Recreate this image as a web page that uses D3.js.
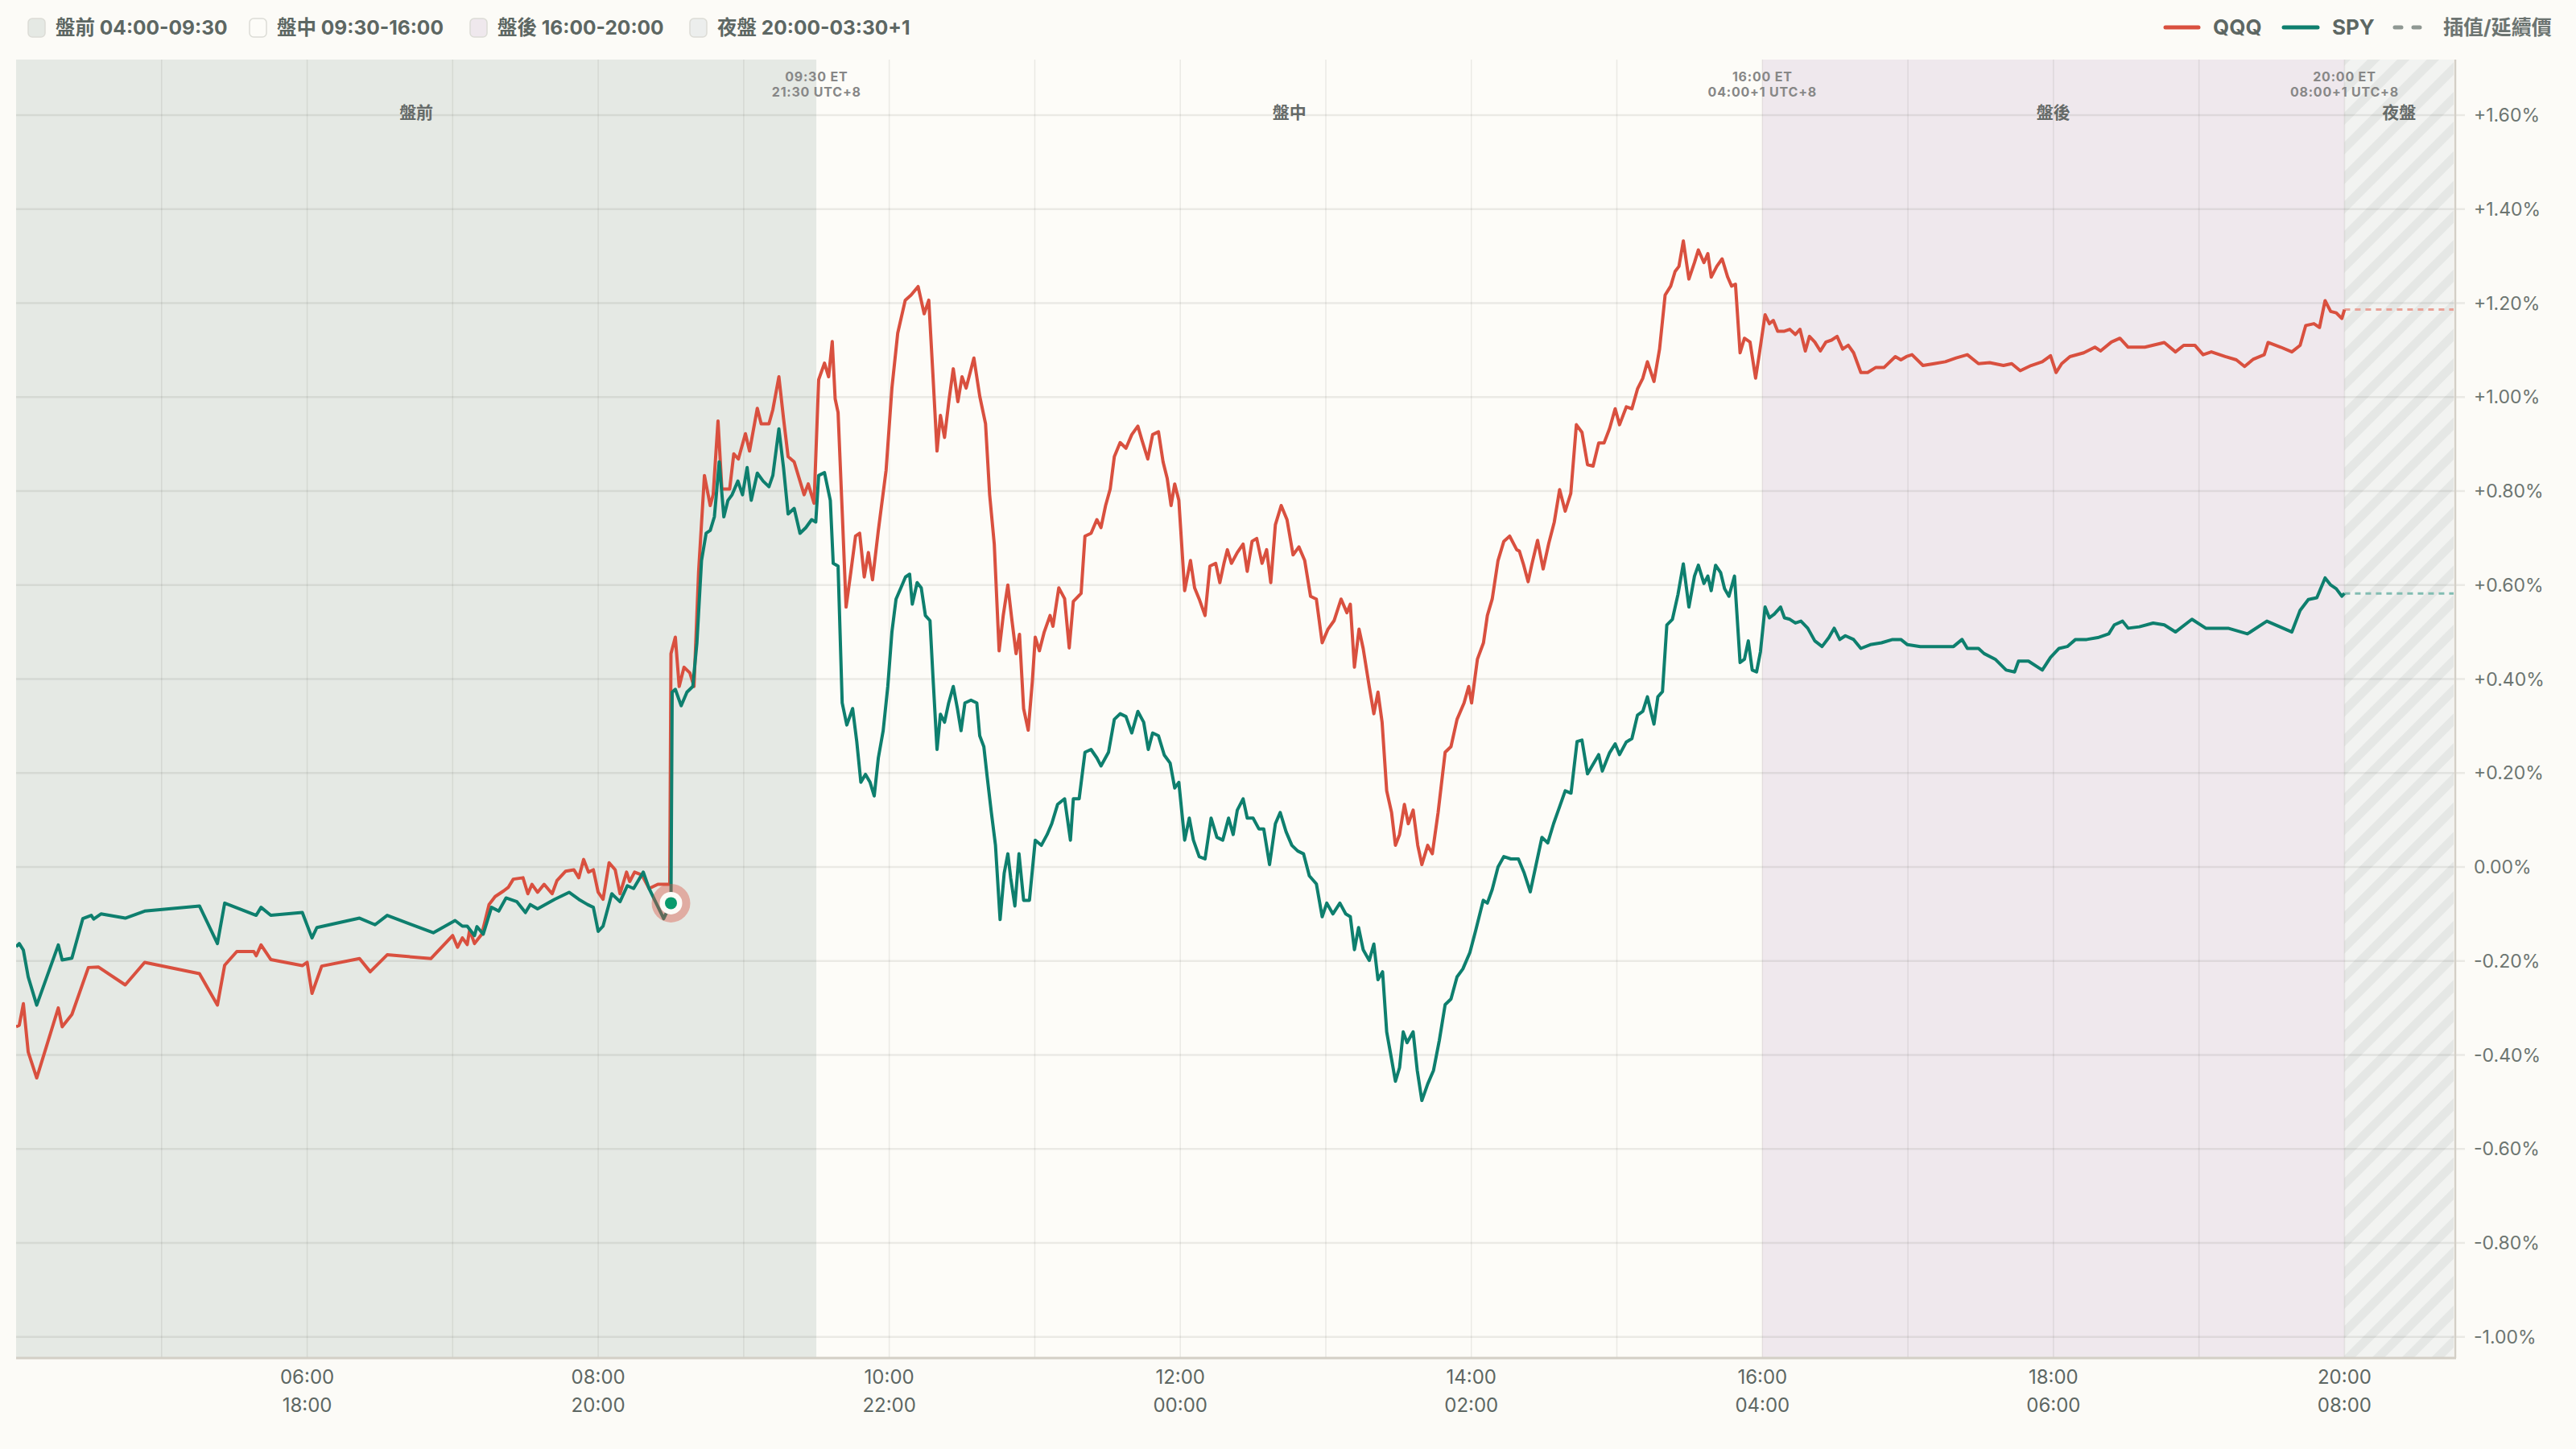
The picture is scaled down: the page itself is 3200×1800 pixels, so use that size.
<!DOCTYPE html>
<html>
<head>
<meta charset="utf-8">
<script src="https://cdn.jsdelivr.net/npm/d3@7"></script>
<style>
  body { margin: 0; background: #fcfbf7; }
  svg { display: block; font-family: Inter, "Noto Sans CJK TC", sans-serif; }
</style>
</head>
<body>
<div id="chart"></div>
<script>
// ---- data: [minutes after 04:00 ET, % change vs previous close] ----
var qqq = [
  [0,-0.34],[1.3,-0.337],[3,-0.291],[5,-0.394],[8.5,-0.449],[17.4,-0.30],[19,-0.34],[23,-0.314],[29.8,-0.214],[34,-0.213],
  [45,-0.251],[53,-0.203],[75.6,-0.227],[83,-0.294],[86,-0.209],[91,-0.18],[98,-0.18],[99,-0.189],[101,-0.166],[105,-0.197],
  [118,-0.21],[120,-0.203],[122,-0.269],[126,-0.211],[141.6,-0.195],[146,-0.223],[153,-0.187],[171,-0.195],[180,-0.146],
  [182,-0.171],[184,-0.151],[186,-0.165],[187,-0.134],[189,-0.163],[192,-0.143],[195,-0.08],[197.5,-0.063],[201,-0.051],
  [203,-0.043],[205,-0.026],[209,-0.023],[211,-0.057],[212.7,-0.037],[215,-0.054],[217.7,-0.037],[221,-0.057],[223,-0.029],
  [226.6,-0.009],[230,-0.006],[232,-0.023],[234,0.016],[236,-0.011],[238,-0.006],[240,-0.054],[242,-0.069],[244.5,0.009],
  [247,-0.006],[249,-0.057],[251.7,-0.011],[253,-0.031],[255,-0.011],[258,-0.017],[261,-0.046],[264.6,-0.037],[269.5,-0.037],
  [270,0.454],[271.8,0.489],[273.4,0.384],[275.4,0.425],[277.8,0.413],[279.5,0.384],[281.4,0.629],[283.8,0.833],[286.2,0.769],
  [287.4,0.792],[289.4,0.949],[291,0.804],[294.2,0.804],[295.9,0.879],[297.8,0.868],[300.7,0.922],[302.4,0.885],[305.6,0.976],
  [307.2,0.943],[310.4,0.943],[312,0.973],[314.5,1.043],[316.4,0.955],[318.3,0.873],[320.8,0.862],[323.2,0.821],[324.9,0.792],
  [326.6,0.815],[329,0.774],[330.9,1.037],[333.3,1.072],[335,1.043],[336.5,1.118],[337.7,0.996],[338.9,0.967],[340.6,0.757],
  [342.2,0.553],[344.2,0.629],[346.1,0.704],[347.8,0.71],[349.7,0.617],[351.4,0.669],[353.1,0.611],[355.5,0.716],[358.7,0.844],
  [361.1,1.019],[363.5,1.136],[366.6,1.206],[369,1.217],[371.9,1.235],[374.4,1.177],[376.3,1.206],[378,1.048],[379.7,0.885],
  [381.1,0.961],[382.8,0.914],[384.7,0.996],[386.4,1.06],[388.3,0.99],[390,1.043],[391.7,1.019],[394.9,1.083],[397.3,1.002],
  [399.7,0.943],[401.4,0.792],[403.3,0.687],[405.3,0.46],[407,0.535],[408.9,0.6],[410.6,0.524],[412.3,0.454],[413.7,0.495],
  [415.4,0.337],[417.3,0.291],[419,0.395],[420.2,0.489],[421.9,0.46],[423.9,0.5],[426.3,0.535],[427.5,0.512],[429.9,0.594],
  [432.3,0.571],[434.2,0.466],[435.9,0.565],[439.1,0.582],[440.7,0.704],[443.2,0.71],[445.6,0.739],[447.3,0.722],[449.2,0.769],
  [451.1,0.804],[452.8,0.873],[455.2,0.903],[457.6,0.891],[460,0.92],[462.5,0.938],[464.2,0.908],[466.6,0.868],[468.6,0.92],
  [471,0.926],[472.9,0.862],[474.6,0.827],[476.2,0.769],[477.7,0.815],[479.4,0.78],[481.8,0.588],[484.2,0.652],[485.9,0.594],
  [487.8,0.57],[490.2,0.535],[492.2,0.64],[494.6,0.646],[496.3,0.605],[498,0.646],[499.4,0.675],[501.1,0.646],[503.5,0.669],
  [505.9,0.687],[507.6,0.629],[509.6,0.693],[511.5,0.699],[513.7,0.646],[515.6,0.675],[517.3,0.605],[519.2,0.728],[521.6,0.769],
  [524,0.739],[526.5,0.664],[528.9,0.681],[531.3,0.652],[533.7,0.576],[536.1,0.57],[538.5,0.477],[540.9,0.506],[543.4,0.524],
  [546.3,0.57],[548.7,0.541],[550.1,0.559],[551.8,0.425],[553.7,0.506],[555.4,0.465],[557.9,0.384],[559.8,0.326],[561.5,0.372],
  [563.2,0.308],[565.1,0.162],[567.1,0.116],[568.7,0.046],[570.4,0.069],[572.4,0.133],[574,0.092],[576,0.121],[577.9,0.046],
  [579.6,0.005],[582,0.046],[583.9,0.028],[586.3,0.116],[589.2,0.244],[591.6,0.256],[594.1,0.314],[597,0.349],[598.9,0.384],
  [600.1,0.349],[602.5,0.442],[605,0.477],[606.6,0.535],[608.6,0.57],[611,0.652],[613.4,0.693],[615.8,0.704],[618.7,0.675],
  [619.8,0.672],[621.6,0.642],[623.4,0.607],[625,0.645],[627.3,0.695],[629.6,0.634],[631.9,0.688],[634.2,0.734],[636.4,0.803],
  [638.7,0.757],[641,0.795],[643.3,0.941],[645.6,0.925],[647.9,0.856],[650.2,0.853],[652.5,0.902],[654.7,0.902],[657,0.933],
  [659.3,0.975],[661.1,0.941],[663.9,0.979],[666.2,0.975],[668.5,1.017],[670.7,1.04],[672.6,1.075],[675.3,1.033],[677.6,1.102],
  [679.9,1.217],[682.2,1.236],[684,1.267],[685.6,1.278],[687.4,1.332],[689.7,1.251],[692,1.286],[693.6,1.313],[695.9,1.286],
  [697.5,1.305],[698.9,1.255],[701.2,1.278],[703.4,1.294],[705.7,1.255],[707.3,1.236],[708.9,1.24],[710.8,1.094],[712.6,1.125],
  [714.9,1.117],[717.2,1.04],[718.8,1.094],[721.1,1.175],[722.9,1.156],[724.5,1.163],[726.3,1.14],[729.1,1.14],[731.3,1.144],
  [733.6,1.133],[735.5,1.144],[737.7,1.098],[739.4,1.129],[741.6,1.117],[743.9,1.098],[746.2,1.117],[748.5,1.121],[750.8,1.129],
  [753.1,1.102],[755.4,1.11],[757.6,1.094],[760.6,1.052],[763.4,1.052],[766.8,1.063],[770.2,1.063],[774.8,1.086],[777.1,1.079],
  [779.4,1.086],[781.7,1.09],[786.2,1.067],[790.8,1.071],[795.4,1.075],[799.9,1.083],[804.5,1.09],[809.1,1.071],[813.7,1.073],
  [819.4,1.067],[822.8,1.071],[826.3,1.056],[830.8,1.067],[835.4,1.075],[838.8,1.088],[841.1,1.052],[843.4,1.071],[846.8,1.086],
  [852.5,1.094],[857.1,1.106],[859.4,1.098],[863.9,1.117],[867.4,1.125],[870.8,1.106],[877.7,1.106],[885.7,1.116],[890.3,1.096],
  [893.7,1.11],[898.3,1.11],[901.7,1.09],[905.1,1.096],[910.8,1.086],[915.4,1.079],[918.8,1.065],[922.3,1.08],[926.9,1.09],
  [928.5,1.116],[933.7,1.106],[938.3,1.096],[941.7,1.11],[944,1.152],[947.4,1.156],[949.7,1.148],[952,1.205],[954.3,1.182],
  [956.6,1.179],[958.9,1.167],[960,1.186]
];
var spy = [
  [0,-0.17],[1.3,-0.163],[3,-0.177],[5,-0.234],[8.5,-0.294],[17.4,-0.166],[19,-0.198],[23,-0.194],[27.5,-0.11],[31,-0.103],
  [32,-0.111],[35,-0.1],[45,-0.109],[53,-0.094],[75.6,-0.083],[83,-0.163],[86,-0.077],[99,-0.103],[101,-0.086],[105,-0.103],
  [118,-0.097],[122,-0.151],[124,-0.129],[141.6,-0.109],[148,-0.123],[153,-0.103],[172,-0.14],[181,-0.114],[184,-0.126],
  [186,-0.126],[189,-0.146],[190,-0.127],[192.6,-0.143],[196,-0.086],[199,-0.094],[202,-0.066],[206.5,-0.074],[210,-0.097],
  [212,-0.08],[215,-0.089],[222,-0.069],[228,-0.054],[232,-0.069],[235.6,-0.08],[238,-0.086],[240,-0.137],[242,-0.126],
  [245.6,-0.057],[249,-0.074],[252,-0.04],[254.6,-0.046],[258.6,-0.011],[261,-0.046],[265.8,-0.097],[267,-0.11],[270,-0.077],
  [270.5,0.372],[271.8,0.378],[274.2,0.343],[276.6,0.372],[279,0.384],[280.7,0.477],[282.6,0.652],[284.5,0.71],[286.2,0.716],
  [287.9,0.745],[289.9,0.862],[291.8,0.745],[293.5,0.78],[295.2,0.792],[297.6,0.821],[299.5,0.792],[301.4,0.85],[303.1,0.78],
  [305.6,0.838],[308,0.821],[310.4,0.809],[312,0.833],[314.5,0.932],[316.4,0.85],[318.3,0.751],[320.8,0.763],[323.2,0.71],
  [325.6,0.722],[328,0.739],[329.7,0.734],[330.9,0.833],[333.3,0.839],[335.7,0.78],[336.9,0.646],[338.9,0.64],[340.6,0.349],
  [342.5,0.302],[344.9,0.337],[346.6,0.267],[348.3,0.18],[350.2,0.197],[352.1,0.18],[353.8,0.151],[355.5,0.232],[357.5,0.29],
  [359.4,0.384],[361.1,0.5],[362.8,0.57],[364.8,0.594],[366.7,0.617],[368.4,0.623],[369.5,0.559],[371.5,0.605],[373.2,0.594],
  [374.9,0.535],[376.8,0.524],[378,0.407],[379.7,0.25],[381.1,0.325],[382.8,0.308],[384.5,0.349],[386.4,0.384],[388.1,0.337],
  [389.6,0.29],[391.2,0.349],[393.7,0.355],[396.1,0.349],[397.3,0.279],[399,0.256],[400.4,0.191],[402.1,0.116],[403.8,0.046],
  [405.7,-0.112],[407.4,-0.013],[408.9,0.028],[410.1,-0.024],[411.8,-0.083],[413.5,0.028],[415.4,-0.071],[417.8,-0.071],
  [420.2,0.057],[422.7,0.046],[425.1,0.069],[427,0.092],[429.4,0.133],[432.3,0.145],[434.7,0.057],[435.9,0.145],[438.3,0.145],
  [440.7,0.244],[443.2,0.25],[445.6,0.232],[447.3,0.215],[450.4,0.244],[452.8,0.314],[455.2,0.326],[457.6,0.32],[460,0.285],
  [462.5,0.331],[464.9,0.308],[466.8,0.25],[468.6,0.285],[471,0.279],[473.4,0.238],[475.8,0.221],[477.7,0.168],[479.4,0.18],
  [481.8,0.057],[483.7,0.104],[485.4,0.057],[487.8,0.022],[490.2,0.017],[492.7,0.104],[495.1,0.063],[497.5,0.057],[499.9,0.104],
  [501.8,0.069],[503.5,0.121],[505.9,0.145],[507.6,0.104],[510,0.104],[512.4,0.081],[514.4,0.081],[516.8,0.005],[519.2,0.092],
  [521.2,0.116],[523.6,0.075],[526,0.046],[528.4,0.034],[530.8,0.028],[533.2,-0.019],[536.1,-0.036],[538.5,-0.106],[540.4,-0.077],
  [542.9,-0.1],[545.8,-0.077],[548.2,-0.1],[550.1,-0.106],[551.8,-0.176],[553.5,-0.129],[555.4,-0.176],[557.9,-0.199],
  [559.8,-0.164],[561.5,-0.24],[563.4,-0.223],[565.1,-0.351],[567.1,-0.409],[568.7,-0.456],[570.4,-0.427],[571.9,-0.351],
  [573.5,-0.374],[576,-0.351],[577.7,-0.433],[579.6,-0.497],[582,-0.462],[584.4,-0.433],[586.8,-0.369],[589.2,-0.293],
  [591.6,-0.281],[594.1,-0.234],[596.5,-0.217],[599.4,-0.182],[601.8,-0.135],[604.9,-0.071],[606.6,-0.077],[608.6,-0.048],
  [611,0],[613.4,0.022],[616.3,0.017],[619.4,0.017],[621.8,-0.013],[624.3,-0.053],[626.7,0.005],[629.1,0.063],[631.5,0.051],
  [633.9,0.092],[636.3,0.127],[638.7,0.162],[641.1,0.157],[643.6,0.267],[645.6,0.27],[647.9,0.198],[652.5,0.239],[654,0.204],
  [657,0.243],[659.3,0.262],[661.1,0.239],[663.9,0.266],[666.2,0.273],[668.5,0.323],[670.7,0.331],[672.6,0.362],[674.2,0.327],
  [675.3,0.304],[676.9,0.362],[678.8,0.373],[680.6,0.515],[682.9,0.527],[685.2,0.58],[687.4,0.645],[689.7,0.553],[692,0.619],
  [693.6,0.642],[695.9,0.603],[697.5,0.619],[698.9,0.588],[700.7,0.642],[702.8,0.626],[704.4,0.592],[706.2,0.576],[708.5,0.619],
  [710.8,0.435],[712.6,0.442],[714.2,0.481],[715.8,0.419],[717.6,0.415],[719.2,0.458],[721.1,0.553],[722.9,0.53],[724.9,0.538],
  [727.5,0.553],[729.1,0.53],[731.3,0.527],[733.6,0.519],[735.9,0.523],[738.7,0.508],[741.6,0.481],[744.6,0.469],[747.4,0.488],
  [749.6,0.508],[751.9,0.484],[754.2,0.492],[757.6,0.484],[760.6,0.465],[764.5,0.473],[769.1,0.477],[773.7,0.484],[777.1,0.484],
  [779.8,0.473],[785.1,0.469],[792,0.469],[798.8,0.469],[802.3,0.484],[804.5,0.465],[809.1,0.465],[811.4,0.454],[816,0.442],
  [820.5,0.419],[824,0.415],[825.6,0.438],[829.7,0.438],[835.4,0.419],[838.8,0.446],[842.3,0.465],[845.7,0.469],[849.1,0.484],
  [853.7,0.484],[858.3,0.488],[862.8,0.496],[865.1,0.515],[868.5,0.523],[870.8,0.508],[875.4,0.511],[881.1,0.519],[885.7,0.515],
  [890.3,0.5],[897.1,0.527],[902.8,0.508],[912,0.508],[920,0.496],[928,0.523],[938.3,0.5],[941.7,0.546],[945.1,0.569],
  [948.6,0.573],[952,0.615],[954.3,0.6],[956.6,0.592],[958.9,0.576],[960,0.582]
];
var sessionKeys   = ['pre', 'reg', 'post', 'night'];
var sessionNames  = ['盤前', '盤中', '盤後', '夜盤'];
var sessionRanges = ['04:00-09:30', '09:30-16:00', '16:00-20:00', '20:00-03:30+1'];
var sessionStarts = ['04:00', '09:30', '16:00', '20:00'];
var sessionEnds   = ['09:30', '16:00', '20:00', '20:45'];   // night session cut at chart edge
var boundaryTimes = ['09:30', '16:00', '20:00'];
var boundaryET    = ['09:30 ET', '16:00 ET', '20:00 ET'];
var boundaryLocal = ['21:30 UTC+8', '04:00+1 UTC+8', '08:00+1 UTC+8'];
var xTicks      = ['06:00', '08:00', '10:00', '12:00', '14:00', '16:00', '18:00', '20:00'];
var xTickLocal  = ['18:00', '20:00', '22:00', '00:00', '02:00', '04:00', '06:00', '08:00'];
var yTicks = [-1.0, -0.8, -0.6, -0.4, -0.2, 0, 0.2, 0.4, 0.6, 0.8, 1.0, 1.2, 1.4, 1.6];
var eventTime = '08:30';

// ---- layout / style ----
var W = 3200, H = 1800;
var plot = {left: 20, right: 3050, top: 74, bottom: 1687};
var colors = {qqq: '#d9503f', spy: '#0e7f6e', qqqExt: '#e9a297', spyExt: '#82bdb2',
  pre: '#e5e9e4', reg: '#fdfcf8', post: '#efe8ed', night: '#f2f3f1',
  grid: 'rgba(60,60,40,0.09)', text: '#5d6763', label: '#878787'};

// clock string -> minutes after 04:00 ET
function mins(s) { var p = s.split(':'); return +p[0] * 60 + +p[1] - 240; }

var x = d3.scaleLinear().domain([0, mins('20:45')]).range([plot.left, 3048]);
var y = d3.scaleLinear().domain([-1.045, 1.718]).range([plot.bottom, plot.top]);

var svg = d3.select('#chart').append('svg').attr('width', W).attr('height', H);
svg.append('rect').attr('width', W).attr('height', H).attr('fill', '#fcfbf7');

var defs = svg.append('defs');
defs.append('clipPath').attr('id', 'clip').append('rect')
  .attr('x', plot.left).attr('y', plot.top).attr('width', x(mins('20:45')) - plot.left).attr('height', plot.bottom - plot.top);
var pat = defs.append('pattern').attr('id', 'hatch').attr('patternUnits', 'userSpaceOnUse')
  .attr('width', 26).attr('height', 26).attr('patternTransform', 'rotate(45)');
pat.append('rect').attr('width', 26).attr('height', 26).attr('fill', colors.night);
pat.append('rect').attr('width', 11).attr('height', 26).attr('fill', '#e5e7e5');

// session backgrounds
var sessions = sessionKeys.map(function(k, i) {
  return {key: k, name: sessionNames[i], range: sessionRanges[i], start: mins(sessionStarts[i]), end: mins(sessionEnds[i])};
});
svg.append('g').selectAll('rect').data(sessions).enter().append('rect')
  .attr('x', function(d) { return x(d.start); }).attr('y', plot.top)
  .attr('width', function(d) { return x(d.end) - x(d.start); }).attr('height', plot.bottom - plot.top)
  .attr('fill', function(d) { return d.key === 'night' ? 'url(#hatch)' : colors[d.key]; });

// grid
var grid = svg.append('g');
grid.selectAll('line.v').data(d3.range(mins('05:00'), mins('20:00') + 1, 60)).enter().append('line')
  .attr('x1', function(d) { return x(d); }).attr('x2', function(d) { return x(d); })
  .attr('y1', plot.top).attr('y2', plot.bottom).attr('stroke', colors.grid).attr('stroke-width', 1.5);
grid.selectAll('line.h').data(yTicks).enter().append('line')
  .attr('x1', plot.left).attr('x2', plot.right + 12)
  .attr('y1', function(d) { return y(d); }).attr('y2', function(d) { return y(d); })
  .attr('stroke', colors.grid).attr('stroke-width', 2.5);

// plot frame (right border + bottom axis line)
svg.append('line').attr('x1', plot.right).attr('x2', plot.right).attr('y1', plot.top).attr('y2', plot.bottom)
  .attr('stroke', '#d3cfc6').attr('stroke-width', 2.5);
svg.append('line').attr('x1', plot.left).attr('x2', plot.right + 1).attr('y1', plot.bottom).attr('y2', plot.bottom)
  .attr('stroke', '#d3cfc6').attr('stroke-width', 3);

// y axis labels
var yFmt = function(d) { var s = d3.format('.2f')(Math.abs(d)) + '%'; return d > 0.001 ? '+' + s : d < -0.001 ? '-' + s : s; };
svg.append('g').selectAll('text').data(yTicks).enter().append('text')
  .attr('x', 3073).attr('y', function(d) { return y(d); }).attr('dy', '0.36em')
  .attr('font-size', 23).attr('fill', '#6c7571').text(yFmt);

// x axis labels (ET on top, UTC+8 below)
var xl = svg.append('g').selectAll('g').data(xTicks).enter().append('g')
  .attr('transform', function(d) { return 'translate(' + x(mins(d)) + ',0)'; });
xl.append('text').attr('y', 1710).attr('dy', '0.36em').attr('text-anchor', 'middle')
  .attr('font-size', 24).attr('fill', colors.text).text(function(d) { return d; });
xl.append('text').attr('y', 1745).attr('dy', '0.36em').attr('text-anchor', 'middle')
  .attr('font-size', 24).attr('fill', colors.text).text(function(d, i) { return xTickLocal[i]; });

// session names
svg.append('g').selectAll('text').data(sessions).enter().append('text')
  .attr('x', function(d) { return (x(d.start) + x(d.end)) / 2; }).attr('y', 139).attr('dy', '0.36em')
  .attr('text-anchor', 'middle').attr('font-size', 21).attr('font-weight', 700).attr('fill', '#656a68')
  .text(function(d) { return d.name; });

// boundary labels
var bl = svg.append('g').selectAll('g').data(boundaryTimes).enter().append('g')
  .attr('transform', function(d) { return 'translate(' + x(mins(d)) + ',0)'; });
bl.append('text').attr('y', 95).attr('dy', '0.36em').attr('text-anchor', 'middle')
  .attr('font-size', 16).attr('font-weight', 700).attr('letter-spacing', 0.8).attr('fill', colors.label)
  .text(function(d, i) { return boundaryET[i]; });
bl.append('text').attr('y', 114).attr('dy', '0.36em').attr('text-anchor', 'middle')
  .attr('font-size', 16).attr('font-weight', 700).attr('letter-spacing', 0.8).attr('fill', colors.label)
  .text(function(d, i) { return boundaryLocal[i]; });

// series
var line = d3.line().x(function(d) { return x(d[0]); }).y(function(d) { return y(d[1]); });
var lines = svg.append('g').attr('clip-path', 'url(#clip)');
[['qqq', qqq], ['spy', spy]].forEach(function(s) {
  var last = s[1][s[1].length - 1];
  lines.append('path').datum([last, [mins('20:45'), last[1]]]).attr('d', line).attr('fill', 'none')
    .attr('stroke', colors[s[0] + 'Ext']).attr('stroke-width', 3).attr('stroke-dasharray', '7,6');
});
[['qqq', qqq], ['spy', spy]].forEach(function(s) {
  lines.append('path').datum(s[1]).attr('d', line).attr('fill', 'none')
    .attr('stroke', colors[s[0]]).attr('stroke-width', 4).attr('stroke-linejoin', 'round');
});

// event marker on SPY at the 08:30 print
var ev = spy.filter(function(d) { return d[0] === mins(eventTime); })[0];
var mk = svg.append('g').attr('transform', 'translate(' + x(ev[0]) + ',' + y(ev[1]) + ')');
mk.append('circle').attr('r', 24).attr('fill', colors.qqq).attr('opacity', 0.4);
mk.append('circle').attr('r', 14).attr('fill', '#fcfbf7');
mk.append('circle').attr('r', 7.5).attr('fill', '#0a9a6c');

// legend: sessions (top-left)
var legX = [35, 310, 584, 857];
var lg = svg.append('g').selectAll('g').data(sessions).enter().append('g')
  .attr('transform', function(d, i) { return 'translate(' + legX[i] + ',34)'; });
lg.append('rect').attr('x', 0).attr('y', -11).attr('width', 21).attr('height', 23).attr('rx', 5)
  .attr('fill', function(d) { return d.key === 'night' ? '#eceeed' : colors[d.key]; })
  .attr('stroke', '#dcdcd6').attr('stroke-width', 1.5);
lg.append('text').attr('x', 34).attr('dy', '0.36em').attr('font-size', 24.5).attr('font-weight', 700)
  .attr('fill', colors.text).text(function(d) { return d.name + ' ' + d.range; });

// legend: series (top-right)
var rl = svg.append('g').attr('transform', 'translate(0,34)');
rl.append('line').attr('x1', 2690).attr('x2', 2731).attr('stroke', colors.qqq).attr('stroke-width', 5).attr('stroke-linecap', 'round');
rl.append('text').attr('x', 2749).attr('dy', '0.36em').attr('font-size', 26).attr('font-weight', 700).attr('fill', colors.text).text('QQQ');
rl.append('line').attr('x1', 2837).attr('x2', 2879).attr('stroke', colors.spy).attr('stroke-width', 5).attr('stroke-linecap', 'round');
rl.append('text').attr('x', 2897).attr('dy', '0.36em').attr('font-size', 26).attr('font-weight', 700).attr('fill', colors.text).text('SPY');
rl.append('line').attr('x1', 2975).attr('x2', 3008).attr('stroke', '#8f9893').attr('stroke-width', 5)
  .attr('stroke-linecap', 'round').attr('stroke-dasharray', '8,15');
rl.append('text').attr('x', 3035).attr('dy', '0.36em').attr('font-size', 25).attr('font-weight', 700).attr('fill', '#6c7471').text('插值/延續價');
</script>
</body>
</html>
